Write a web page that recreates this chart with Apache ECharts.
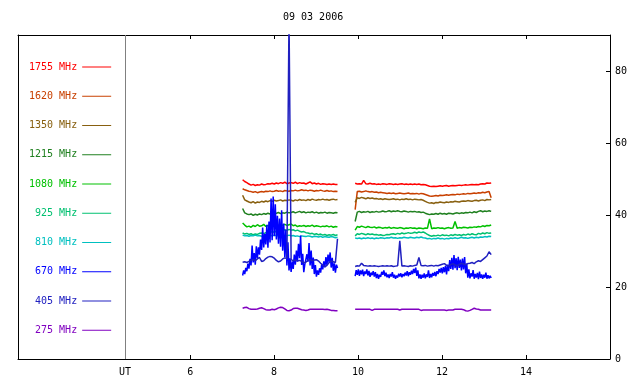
<!DOCTYPE html>
<html>
<head>
<meta charset="utf-8">
<script src="https://cdn.jsdelivr.net/npm/echarts@6/dist/echarts.min.js"></script>
<style>html,body{margin:0;padding:0;background:#fff}#c{width:640px;height:384px}</style>
</head>
<body>
<div id="c"></div>
<script>
// ---- data ----
const chartTitle = '09 03 2006';
const seriesNames = ['1755 MHz','1620 MHz','1350 MHz','1215 MHz','1080 MHz','925 MHz','810 MHz','670 MHz','405 MHz','275 MHz'];
const xTickValues = [6, 8, 10, 12, 14];
const utPos = 4.45;
const yTickValues = [20, 40, 60, 80];
const yLabelValues = [0, 20, 40, 60, 80];
const segA = [7.25, 9.51];
const segB = [9.93, 13.17];

const f1755A = [49.8,49.3,49.0,48.6,48.3,48.5,48.2,48.4,48.3,48.6,48.4,48.5,48.7,48.6,48.8,48.6,48.9,48.7,49.0,48.8,49.1,48.7,48.9,49.0,48.8,49.1,48.7,49.0,48.8,48.9,48.6,48.9,49.2,48.7,48.9,48.6,48.8,48.5,48.7,48.6,48.5,48.6,48.5,48.6,48.5,48.5];
const f1755B = [48.8,48.6,48.7,48.6,49.6,48.7,48.6,48.8,48.6,48.7,48.5,48.6,48.5,48.7,48.6,48.5,48.7,48.6,48.5,48.6,48.5,48.6,48.7,48.5,48.6,48.5,48.6,48.5,48.6,48.5,48.6,48.4,48.5,48.4,48.2,48.0,47.9,48.0,47.9,48.0,48.1,48.0,48.1,48.2,48.0,48.1,48.2,48.1,48.2,48.3,48.2,48.3,48.4,48.3,48.4,48.5,48.4,48.5,48.4,48.6,48.7,48.6,48.9,48.8,48.9];

const f1620A = [47.3,47.0,46.8,46.6,46.5,46.3,46.5,46.2,46.4,46.5,46.4,46.6,46.5,46.7,46.5,46.6,46.8,46.6,46.7,46.5,46.8,46.7,46.6,46.8,46.7,46.9,46.7,46.8,47.0,46.8,46.9,46.7,46.9,46.8,46.6,46.8,46.7,46.9,46.7,46.6,46.8,46.6,46.7,46.5,46.6,46.5];
const f1620B = [41.5,46.5,46.6,46.4,46.5,46.7,46.5,46.4,46.5,46.3,46.4,46.2,46.3,46.2,46.1,46.0,46.1,46.0,46.1,45.9,46.0,46.1,46.0,45.9,46.0,46.1,45.9,46.0,45.9,46.0,45.8,46.0,45.9,45.7,45.5,45.3,45.2,45.3,45.4,45.3,45.5,45.4,45.5,45.6,45.5,45.6,45.7,45.6,45.8,45.7,45.8,45.9,45.8,46.0,45.9,46.0,46.1,46.0,46.2,46.1,46.3,46.2,46.4,46.5,44.8];

const f1350A = [45.5,44.2,43.9,43.6,43.4,43.7,43.3,43.6,43.5,43.8,43.6,43.9,43.7,44.0,43.8,44.1,43.9,44.0,44.2,43.9,44.1,44.0,44.2,44.1,43.9,44.2,44.0,44.3,44.1,44.2,44.0,44.3,44.1,44.4,44.2,44.1,44.3,44.2,44.4,44.2,44.3,44.1,44.3,44.4,44.2,44.3];
const f1350B = [43.5,44.8,44.6,44.9,44.7,44.5,44.8,44.6,44.7,44.5,44.6,44.4,44.5,44.3,44.5,44.4,44.3,44.4,44.5,44.3,44.4,44.2,44.4,44.3,44.5,44.3,44.4,44.2,44.4,44.3,44.2,44.3,44.1,43.8,43.5,43.3,43.4,43.2,43.5,43.4,43.6,43.5,43.4,43.6,43.5,43.7,43.6,43.8,43.7,43.6,43.8,43.9,43.8,44.0,43.9,43.8,44.0,44.1,43.9,44.1,44.2,44.0,44.3,44.2,44.3];

const f1215A = [41.8,40.6,40.3,40.1,40.3,39.9,40.2,40.0,40.3,40.1,40.4,40.2,40.5,40.3,40.6,40.4,40.5,40.7,40.4,40.6,40.5,40.8,40.6,40.7,40.9,40.6,40.8,41.0,40.7,40.9,40.6,40.8,40.7,40.9,40.6,40.8,40.5,40.7,40.6,40.8,40.5,40.7,40.6,40.5,40.7,40.6];
const f1215B = [38.2,40.8,41.0,40.7,40.9,40.8,41.0,40.7,40.9,40.8,41.0,40.8,40.9,41.1,40.9,41.0,41.2,40.9,41.1,41.0,41.2,41.0,40.9,41.1,41.0,40.8,41.0,40.9,41.0,40.8,40.9,40.7,40.8,40.5,40.3,40.1,40.3,40.2,40.4,40.2,40.5,40.3,40.4,40.2,40.5,40.4,40.3,40.5,40.6,40.4,40.6,40.5,40.7,40.6,40.8,40.6,40.9,40.7,41.0,41.2,40.9,41.1,41.0,41.2,41.0];

const f1080A = [37.8,37.2,36.7,36.9,36.6,37.1,36.8,37.3,36.9,37.0,37.4,36.8,37.1,36.9,37.2,37.0,37.3,37.1,36.9,37.2,37.4,37.1,37.3,37.5,37.0,37.2,36.8,37.0,36.9,37.1,36.8,37.0,36.9,37.2,36.8,37.0,36.9,36.7,36.9,36.8,37.0,36.7,36.9,36.6,36.8,36.7];
const f1080B = [35.8,36.8,36.6,36.9,36.7,36.5,36.8,36.6,36.5,36.7,36.4,36.6,36.5,36.3,36.5,36.4,36.6,36.3,36.5,36.4,36.3,36.5,36.4,36.2,36.4,36.3,36.5,36.3,36.4,36.2,36.4,36.3,36.2,36.4,36.3,38.9,36.2,36.4,36.3,36.5,36.3,36.4,36.2,36.4,36.5,36.3,36.4,38.2,36.3,36.5,36.4,36.6,36.5,36.4,36.6,36.5,36.7,36.6,36.8,36.7,37.0,36.8,37.1,37.0,37.2];

const f925A = [35.0,34.7,34.9,34.6,34.8,34.5,34.7,34.6,34.9,35.0,34.8,35.1,35.3,35.1,35.4,35.2,35.5,35.6,35.4,35.7,35.9,35.7,36.0,35.8,35.9,35.6,35.8,35.5,35.3,35.4,35.1,35.0,34.8,34.9,34.6,34.8,34.5,34.7,34.4,34.6,34.3,34.5,34.4,34.6,34.3,34.5];
const f925B = [34.2,34.8,34.6,34.9,34.7,34.5,34.8,34.6,34.7,34.5,34.6,34.4,34.5,34.3,34.4,34.6,34.5,34.7,34.8,34.6,34.9,34.7,35.0,34.8,34.9,35.1,34.9,35.0,35.2,35.0,35.3,35.1,35.3,35.0,34.6,34.3,34.1,34.3,34.2,34.4,34.2,34.5,34.3,34.4,34.2,34.5,34.3,34.6,34.4,34.5,34.3,34.6,34.4,34.7,34.5,34.8,34.6,34.5,34.9,34.7,35.0,34.8,35.1,34.9,35.0];

const f810A = [34.4,34.2,34.3,34.1,34.3,34.2,34.4,34.2,34.3,34.1,34.3,34.2,34.4,34.3,34.2,34.4,34.3,34.2,34.3,34.1,34.3,34.2,34.4,34.2,34.3,34.1,34.2,34.0,34.2,34.1,34.0,34.2,34.1,33.9,34.1,34.0,33.9,34.1,33.8,34.0,33.9,33.8,34.0,33.9,33.7,33.8];
const f810B = [33.6,33.5,33.6,33.4,33.6,33.5,33.7,33.5,33.6,33.4,33.6,33.5,33.7,33.6,33.5,33.7,33.6,33.8,33.6,33.7,33.5,33.7,33.6,33.8,33.7,33.6,33.8,33.7,33.6,33.8,33.7,33.9,33.7,33.6,33.4,33.5,33.3,33.5,33.4,33.6,33.4,33.5,33.3,33.5,33.4,33.6,33.5,33.7,33.5,33.6,33.8,33.6,33.7,33.5,33.7,33.8,33.6,33.8,33.7,33.9,33.8,34.0,33.9,34.1,34.0];

const f670A = [23.2,24.6,23.6,25.3,24.4,26.5,25.1,27.8,26.0,31.5,26.8,29.4,26.2,31.3,28.1,31.0,29.0,33.2,30.3,36.5,31.0,34.8,31.8,37.3,30.9,38.2,32.4,44.6,33.0,45.1,34.1,43.0,33.2,39.8,32.0,39.0,31.2,41.3,30.1,37.6,28.3,35.9,26.0,32.4,24.6,28.0,24.2,27.1,25.0,29.0,26.2,30.1,27.1,32.0,28.0,34.3,26.1,29.2,24.1,26.3,25.8,29.1,27.0,32.2,26.0,30.1,25.0,28.2,23.6,26.1,22.9,24.6,23.4,25.2,24.0,26.3,24.9,27.1,25.5,28.3,26.1,29.0,27.0,29.6,25.4,28.1,24.5,26.6,24.0,26.2,25.3];
const f670B = [23.0,24.7,23.4,24.9,23.1,24.6,23.5,24.8,23.0,24.3,23.6,24.9,23.2,24.5,22.8,24.0,23.3,24.4,22.9,24.1,22.5,23.6,22.3,23.4,22.8,24.2,23.4,24.6,23.0,24.0,22.7,23.5,22.5,23.6,22.9,24.1,22.6,23.4,22.3,23.2,22.6,23.7,22.9,23.8,22.7,23.6,23.0,24.0,23.2,24.4,23.0,24.1,23.4,24.5,23.6,25.0,23.9,25.4,23.1,24.6,22.4,23.5,22.3,23.4,22.6,23.8,22.4,23.5,22.8,24.6,22.5,23.6,22.7,23.9,23.1,24.2,23.0,24.4,23.6,25.0,24.0,25.3,23.8,25.5,24.1,25.9,23.5,26.2,24.4,27.5,25.0,28.1,24.8,28.9,25.2,28.0,24.7,28.4,25.3,27.6,24.6,27.9,24.9,28.3,23.8,26.5,22.6,24.9,22.4,23.8,22.9,24.7,22.3,23.6,22.6,23.9,22.2,24.3,22.5,23.5,22.3,23.4,22.6,24.0,22.3,23.3,22.4,23.1,22.5];

const f405A = [26.9,27.0,26.8,27.1,27.4,27.6,27.3,27.8,28.2,27.1,27.3,27.9,28.3,28.5,28.4,28.0,27.4,27.0,27.2,27.8,28.1,27.9,95.0,27.6,27.3,27.5,27.2,27.4,27.1,26.7,26.9,27.4,27.6,27.3,27.5,27.6,27.2,26.6,26.1,25.6,26.0,26.8,27.2,27.0,26.8,33.4];
const f405B = [25.7,25.9,25.8,26.6,26.0,25.9,25.8,25.9,25.8,25.9,25.8,25.7,25.8,25.9,25.8,25.9,25.8,25.9,25.7,25.8,25.9,32.8,25.8,25.9,25.8,25.7,25.9,25.8,26.0,26.1,28.2,26.0,25.9,26.0,25.8,25.9,26.0,25.8,26.0,25.9,26.1,26.3,26.5,26.0,25.8,26.2,26.5,26.1,25.9,26.3,26.6,26.4,26.2,26.5,26.6,26.8,26.5,27.0,27.3,27.1,27.6,28.1,28.6,29.8,29.0];

const f275A = [14.1,14.3,14.35,14.0,13.8,13.8,13.8,13.9,14.1,14.25,14.0,13.7,13.6,13.6,13.8,13.7,13.9,14.2,14.35,14.3,13.9,13.5,13.4,13.6,14.0,14.1,14.1,13.9,13.7,13.6,13.5,13.6,13.8,13.8,13.8,13.8,13.8,13.8,13.8,13.75,13.8,13.7,13.5,13.5,13.4,13.4];
const f275B = [13.8,13.8,13.8,13.8,13.8,13.8,13.8,13.8,13.5,13.8,13.8,13.8,13.8,13.8,13.8,13.8,13.8,13.8,13.8,13.8,13.8,13.6,13.8,13.8,13.8,13.8,13.8,13.8,13.8,13.8,13.8,13.5,13.6,13.6,13.6,13.6,13.6,13.6,13.6,13.6,13.6,13.6,13.6,13.5,13.6,13.6,13.6,13.8,13.8,13.8,13.8,13.7,13.4,13.3,13.5,13.8,14.1,13.9,13.8,13.6,13.6,13.6,13.6,13.6,13.6];

// ---- styles ----
const seriesColors = ['#ff0000','#c84000','#886010','#208020','#00c000','#00c070','#00c0c0','#0000ff','#2020c0','#8000c0'];
const font = 'DejaVu Sans Mono';

const seriesValues = [
  [f1755A, f1755B], [f1620A, f1620B], [f1350A, f1350B], [f1215A, f1215B], [f1080A, f1080B],
  [f925A, f925B], [f810A, f810B], [f670A, f670B], [f405A, f405B], [f275A, f275B]
];

function seg(vals, range) {
  return vals.map((v, i) => [range[0] + i * (range[1] - range[0]) / (vals.length - 1), v]);
}
function build(a, b) {
  return seg(a, segA).concat([[(segA[1] + segB[0]) / 2, null]], seg(b, segB));
}

const series = seriesNames.map((name, i) => {
  const s = {
    name: name,
    type: 'line',
    data: build(seriesValues[i][0], seriesValues[i][1]),
    symbol: 'none',
    showSymbol: false,
    connectNulls: false,
    clip: true,
    color: seriesColors[i],
    lineStyle: { color: seriesColors[i], width: 1.5 },
    itemStyle: { color: seriesColors[i] },
    emphasis: { disabled: true },
    animation: false
  };
  if (i === 0) {
    s.markLine = {
      silent: true, symbol: 'none', animation: false,
      label: { show: false },
      lineStyle: { color: '#808080', width: 1, type: 'solid' },
      data: [{ xAxis: utPos }]
    };
  }
  return s;
});

const chart = echarts.init(document.getElementById('c'), null, { renderer: 'canvas' });
chart.setOption({
  backgroundColor: '#fff',
  animation: false,
  title: {
    text: chartTitle, left: 283, top: 12, padding: 0,
    textStyle: { fontFamily: font, fontSize: 10, fontWeight: 'normal', color: '#000' }
  },
  legend: {
    orient: 'vertical', left: 29, top: 62, padding: 0, align: 'right',
    itemWidth: 29, itemHeight: 1, itemGap: 19.25, icon: 'rect', selectedMode: false,
    textStyle: { fontFamily: font, fontSize: 10 },
    data: seriesNames.map((n, i) => ({ name: n, textStyle: { color: seriesColors[i] } }))
  },
  grid: { left: 18, right: 30, top: 35, bottom: 25, containLabel: false },
  xAxis: [
    {
      type: 'value', position: 'bottom', min: 1.9, max: 16,
      axisLine: { show: true, onZero: false, lineStyle: { color: '#000', width: 1 } },
      axisTick: { show: true, inside: true, length: 4, customValues: xTickValues, lineStyle: { color: '#000' } },
      axisLabel: {
        show: true, margin: 8, customValues: [utPos].concat(xTickValues),
        formatter: v => (Math.abs(v - utPos) < 1e-6 ? 'UT' : String(v)),
        fontFamily: font, fontSize: 10, color: '#000'
      },
      splitLine: { show: false }
    },
    {
      type: 'value', position: 'top', min: 1.9, max: 16,
      axisLine: { show: true, onZero: false, lineStyle: { color: '#000', width: 1 } },
      axisTick: { show: true, inside: true, length: 4, customValues: xTickValues, lineStyle: { color: '#000' } },
      axisLabel: { show: false },
      splitLine: { show: false }
    }
  ],
  yAxis: [
    {
      type: 'value', position: 'right', min: 0, max: 90,
      axisLine: { show: true, onZero: false, lineStyle: { color: '#000', width: 1 } },
      axisTick: { show: true, inside: true, length: 4, customValues: yTickValues, lineStyle: { color: '#000' } },
      axisLabel: { show: true, margin: 5, customValues: yLabelValues, fontFamily: font, fontSize: 10, color: '#000' },
      splitLine: { show: false }
    },
    {
      type: 'value', position: 'left', min: 0, max: 90,
      axisLine: { show: true, onZero: false, lineStyle: { color: '#000', width: 1 } },
      axisTick: { show: false },
      axisLabel: { show: false },
      splitLine: { show: false }
    }
  ],
  series: series
});
</script>
</body>
</html>
